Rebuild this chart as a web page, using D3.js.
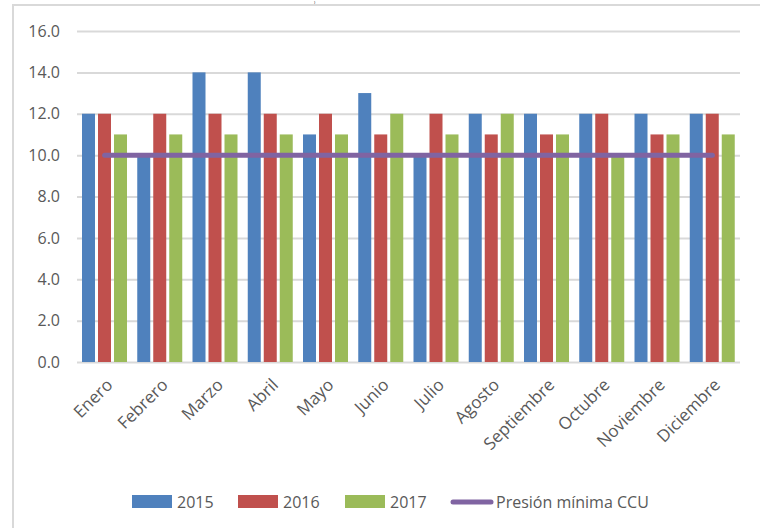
<!DOCTYPE html>
<html>
<head>
<meta charset="utf-8">
<script src="https://cdn.jsdelivr.net/npm/d3@7"></script>
<style>
  html, body { margin: 0; padding: 0; background: #fff; }
  svg { display: block; }
  text { font-family: "Open Sans", sans-serif; }
</style>
</head>
<body>
<svg id="chart" width="760" height="528"></svg>
<script>
// Monthly pressure readings per year, with the CCU minimum reference
const months = ["Enero", "Febrero", "Marzo", "Abril", "Mayo", "Junio", "Julio",
  "Agosto", "Septiembre", "Octubre", "Noviembre", "Diciembre"];
const years = ["2015", "2016", "2017"];
const values2015 = [12, 10, 14, 14, 11, 13, 10, 12, 12, 12, 12, 12];
const values2016 = [12, 12, 12, 12, 12, 11, 12, 11, 11, 12, 11, 12];
const values2017 = [11, 11, 11, 11, 11, 12, 11, 12, 11, 10, 11, 11];
const minPressure = 10;
const minPressureLabel = "Presión mínima CCU";
const yTicks = [0, 2, 4, 6, 8, 10, 12, 14, 16];

const seriesValues = { "2015": values2015, "2016": values2016, "2017": values2017 };
const colors = { "2015": "#4F81BD", "2016": "#C0504D", "2017": "#9BBB59" };
const lineColor = "#8064A2";

const svg = d3.select("#chart");

// chart frame
svg.append("rect")
  .attr("x", 13).attr("y", 5)
  .attr("width", 800).attr("height", 600)
  .attr("fill", "none")
  .attr("stroke", "#d9d9d9")
  .attr("stroke-width", 2);

// small title mark above the frame
svg.append("text")
  .attr("x", 314).attr("y", 3.5)
  .attr("font-size", 4)
  .attr("fill", "#000")
  .text(")");

const plot = { left: 77, right: 740, top: 31, bottom: 362 };

const x0 = d3.scaleBand().domain(months)
  .range([plot.left, plot.right]).paddingInner(0).paddingOuter(0);
const x1 = d3.scaleBand().domain(years)
  .range([5, 50]).paddingInner(3 / 16).paddingOuter(0);
const y = d3.scaleLinear().domain([0, 16]).range([plot.bottom, plot.top]);

// gridlines and value labels
const yAxis = svg.append("g")
  .attr("transform", `translate(${plot.left},0)`)
  .call(d3.axisLeft(y).tickValues(yTicks).tickFormat(d3.format(".1f"))
    .tickSize(-(plot.right - plot.left)).tickPadding(17));
yAxis.select(".domain").remove();
yAxis.selectAll(".tick line").attr("stroke", "#d9d9d9").attr("stroke-width", 2);
yAxis.selectAll(".tick text")
  .attr("fill", "#595959")
  .attr("font-size", 16)
  .attr("font-family", "'Open Sans', sans-serif");

// grouped bars
const groups = svg.append("g").selectAll("g")
  .data(months)
  .join("g")
  .attr("transform", d => `translate(${x0(d)},0)`);

groups.selectAll("rect")
  .data((m, i) => years.map(yr => ({ year: yr, value: seriesValues[yr][i] })))
  .join("rect")
  .attr("x", d => x1(d.year))
  .attr("width", x1.bandwidth())
  .attr("y", d => y(d.value))
  .attr("height", d => y(0) - y(d.value))
  .attr("fill", d => colors[d.year]);

// minimum pressure line across month centres
const linePts = months.map(m => [x0(m) + x0.bandwidth() / 2, y(minPressure)]);
svg.append("path")
  .attr("d", d3.line()(linePts))
  .attr("fill", "none")
  .attr("stroke", lineColor)
  .attr("stroke-width", 5)
  .attr("stroke-linecap", "round");

// month labels, rotated
const xAxis = svg.append("g")
  .attr("transform", `translate(0,${plot.bottom})`)
  .call(d3.axisBottom(x0).tickSize(0).tickPadding(0));
xAxis.select(".domain").remove();
xAxis.selectAll(".tick text")
  .attr("fill", "#595959")
  .attr("font-size", 17)
  .attr("font-family", "'Open Sans', sans-serif")
  .attr("text-anchor", "end")
  .attr("y", 0).attr("dy", 0)
  .attr("transform", "translate(9,24) rotate(-45)");

// legend
const legend = svg.append("g").attr("transform", "translate(0,502)");
const legendItems = [
  { label: "2015", x: 132, color: colors["2015"], type: "rect" },
  { label: "2016", x: 238, color: colors["2016"], type: "rect" },
  { label: "2017", x: 345, color: colors["2017"], type: "rect" },
  { label: minPressureLabel, x: 451, color: lineColor, type: "line" }
];
legendItems.forEach(it => {
  if (it.type === "rect") {
    legend.append("rect")
      .attr("x", it.x).attr("y", -7)
      .attr("width", 40).attr("height", 13)
      .attr("fill", it.color);
  } else {
    legend.append("line")
      .attr("x1", it.x + 2).attr("x2", it.x + 40)
      .attr("y1", 0).attr("y2", 0)
      .attr("stroke", it.color).attr("stroke-width", 5)
      .attr("stroke-linecap", "round");
  }
  legend.append("text")
    .attr("x", it.x + 45).attr("y", 0)
    .attr("dy", "0.35em")
    .attr("fill", "#595959")
    .attr("font-size", 16)
    .text(it.label);
});
</script>
</body>
</html>
